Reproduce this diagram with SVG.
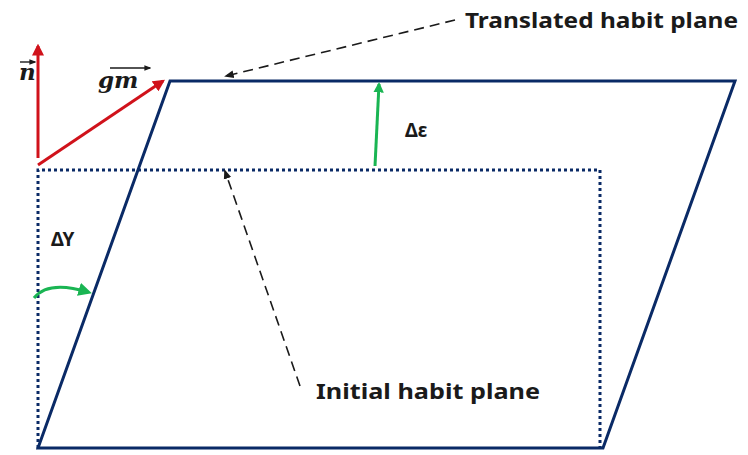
<svg xmlns="http://www.w3.org/2000/svg" width="748" height="455" viewBox="0 0 748 455">
<style>
.lbl{font-family:"Noto Sans","Liberation Sans",Arial,sans-serif;font-weight:bold;fill:#1a1a1a}
.math{font-family:"DejaVu Serif","Liberation Serif",serif;font-weight:bold;font-style:italic;fill:#1a1a1a}
.red{stroke:#d0121b;stroke-width:3;fill:none}
.grn{stroke:#1ab553;stroke-width:3;fill:none}
.lead{stroke:#1a1a1a;stroke-width:1.6;stroke-dasharray:10,6;fill:none}
</style>
<defs>
<marker id="ar" viewBox="0 0 10 10" refX="8" refY="5" markerWidth="4" markerHeight="4" orient="auto"><path d="M0,0 L10,5 L0,10 Z" fill="#d0121b"/></marker>
<marker id="ag" viewBox="0 0 10 10" refX="8" refY="5" markerWidth="3.5" markerHeight="3.5" orient="auto"><path d="M0,0 L10,5 L0,10 Z" fill="#1ab553"/></marker>
<marker id="ag2" viewBox="0 0 10 10" refX="7" refY="5" markerWidth="4.5" markerHeight="4.5" orient="auto"><path d="M0,0 L10,5 L0,10 Z" fill="#1ab553"/></marker>
<marker id="ak" viewBox="0 0 10 10" refX="8" refY="5" markerWidth="6" markerHeight="6" orient="auto"><path d="M0,1 L10,5 L0,9 Z" fill="#1a1a1a"/></marker>
<marker id="as" viewBox="0 0 10 10" refX="8" refY="5" markerWidth="5" markerHeight="5" orient="auto"><path d="M0,1 L10,5 L0,9 Z" fill="#1a1a1a"/></marker>
</defs>
<g id="initial-plane">
<path d="M38,448 L38,170 L600,170 L600,448" fill="none" stroke="#0a2a66" stroke-width="3" stroke-dasharray="3,3"/>
</g>
<g id="translated-plane">
<polygon points="38,448 170,81 735,81 603,448" fill="none" stroke="#0a2a66" stroke-width="3"/>
</g>
<g id="vectors">
<line class="red" x1="38" y1="158" x2="38" y2="46" marker-end="url(#ar)"/>
<line class="red" x1="38" y1="165" x2="163" y2="81" marker-end="url(#ar)"/>
<text class="math" x="19" y="80" font-size="23">n</text>
<line x1="20" y1="62" x2="35" y2="62" stroke="#1a1a1a" stroke-width="1.4" marker-end="url(#as)"/>
<text class="math" x="98" y="88" font-size="23">gm</text>
<line x1="110" y1="68" x2="150" y2="68" stroke="#1a1a1a" stroke-width="1.4" marker-end="url(#as)"/>
</g>
<g id="delta-eps">
<line class="grn" x1="375" y1="166" x2="379" y2="84" marker-end="url(#ag)"/>
<text class="lbl" x="405" y="137" font-size="19">Δε</text>
</g>
<g id="delta-gamma">
<path class="grn" d="M34,298 Q48,280 88,292" stroke-width="3.5" marker-end="url(#ag2)"/>
<text class="lbl" x="51" y="246" font-size="19">ΔΥ</text>
</g>
<g id="connectors">
<line class="lead" x1="455" y1="20" x2="226" y2="76" marker-end="url(#ak)"/>
<line class="lead" x1="300" y1="386" x2="225" y2="171" marker-end="url(#ak)"/>
</g>
<g id="labels">
<text class="lbl" x="465" y="28" font-size="21" textLength="273" lengthAdjust="spacingAndGlyphs">Translated habit plane</text>
<text class="lbl" x="316" y="399" font-size="21" textLength="224" lengthAdjust="spacingAndGlyphs">Initial habit plane</text>
</g>
</svg>
